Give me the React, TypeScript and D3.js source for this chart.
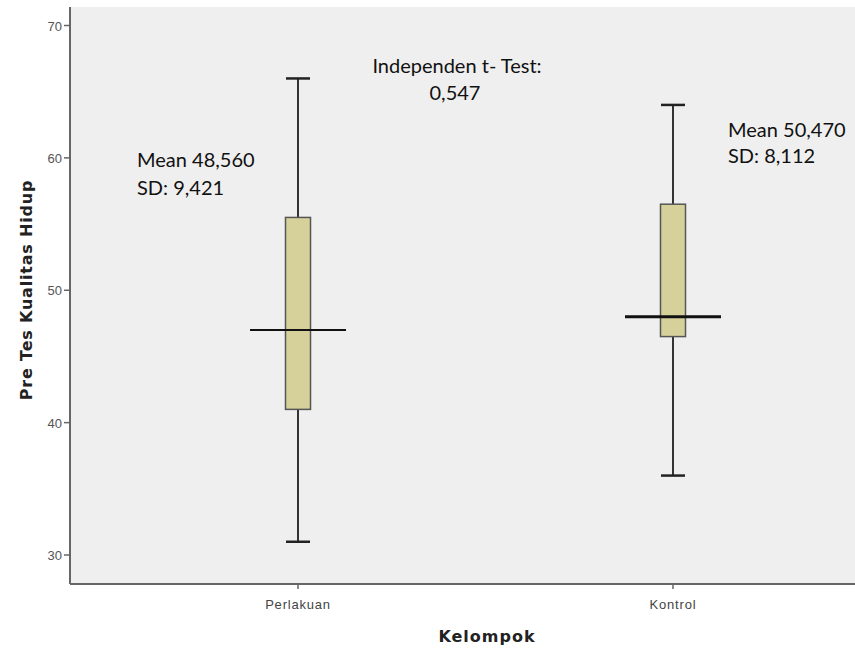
import React from 'react';
import * as d3 from 'd3';

const groups = ['Perlakuan', 'Kontrol'];
const whiskerLow = [31, 36];
const q1 = [41, 46.5];
const medians = [47, 48];
const q3 = [55.5, 56.5];
const whiskerHigh = [66, 64];
const yTicks = [30, 40, 50, 60, 70];

const W = 855;
const H = 649;
const left = 70;
const top = 7;
const bottom = 584;

const App = () => {
  const y = d3.scaleLinear().domain([30, 70]).range([555, 25.5]);
  const x = d3.scalePoint().domain(groups).range([298, 673]);
  const boxW = 25;
  const capW = 24;
  const medW = 96;

  return (
    <svg width={W} height={H} style={{ position: 'absolute', left: 0, top: 0, background: '#fff' }}>
      <rect x={left} y={top} width={W - left} height={bottom - top} fill="#efefef" />

      {groups.map((g, i) => {
        const cx = x(g) as number;
        return (
          <g key={g}>
            <line x1={cx} x2={cx} y1={y(whiskerHigh[i])} y2={y(q3[i])} stroke="#333" strokeWidth={2} />
            <line x1={cx} x2={cx} y1={y(q1[i])} y2={y(whiskerLow[i])} stroke="#333" strokeWidth={2} />
            <line x1={cx - capW / 2} x2={cx + capW / 2} y1={y(whiskerHigh[i])} y2={y(whiskerHigh[i])} stroke="#222" strokeWidth={2.5} />
            <line x1={cx - capW / 2} x2={cx + capW / 2} y1={y(whiskerLow[i])} y2={y(whiskerLow[i])} stroke="#222" strokeWidth={2.5} />
            <rect x={cx - boxW / 2} y={y(q3[i])} width={boxW} height={y(q1[i]) - y(q3[i])}
              fill="#d6d19b" stroke="#555" strokeWidth={1.5} />
            <line x1={cx - medW / 2} x2={cx + medW / 2} y1={y(medians[i])} y2={y(medians[i])}
              stroke="#111" strokeWidth={i === 0 ? 2 : 3} />
          </g>
        );
      })}

      {/* axes */}
      <line x1={left} x2={left} y1={top} y2={bottom} stroke="#666" strokeWidth={2} />
      <line x1={left} x2={W} y1={bottom} y2={bottom} stroke="#666" strokeWidth={2} />
      {yTicks.map(t => (
        <g key={t}>
          <line x1={left - 6} x2={left} y1={y(t)} y2={y(t)} stroke="#666" strokeWidth={1.5} />
          <text x={left - 8} y={y(t) + 5} textAnchor="end" fontFamily="Liberation Sans, Arial" fontSize={13} fill="#555">{t}</text>
        </g>
      ))}
      {groups.map(g => (
        <g key={g}>
          <line x1={x(g)} x2={x(g)} y1={bottom} y2={bottom + 5} stroke="#666" strokeWidth={1.5} />
          <text x={x(g)} y={bottom + 25} textAnchor="middle" fontFamily="Liberation Sans, Arial" fontSize={13} letterSpacing={0.8} fill="#444">{g}</text>
        </g>
      ))}
      <text x={487} y={642} textAnchor="middle" fontFamily="DejaVu Sans, Verdana" fontWeight="bold" fontSize={16} letterSpacing={1} fill="#222">Kelompok</text>
      <text transform="translate(32,290) rotate(-90)" textAnchor="middle" fontFamily="DejaVu Sans, Verdana" fontWeight="bold" fontSize={16} letterSpacing={0.8} fill="#222">Pre Tes Kualitas Hidup</text>

      {/* annotations */}
      <g fontFamily="Lato, Open Sans, sans-serif" fontSize={20} fill="#111">
        <text x={137} y={167}>Mean 48,560</text>
        <text x={137} y={195}>SD: 9,421</text>
        <text x={457} y={73} textAnchor="middle">Independen t- Test:</text>
        <text x={455} y={100} textAnchor="middle">0,547</text>
        <text x={728} y={137}>Mean 50,470</text>
        <text x={728} y={163}>SD: 8,112</text>
      </g>
    </svg>
  );
};

export default App;
